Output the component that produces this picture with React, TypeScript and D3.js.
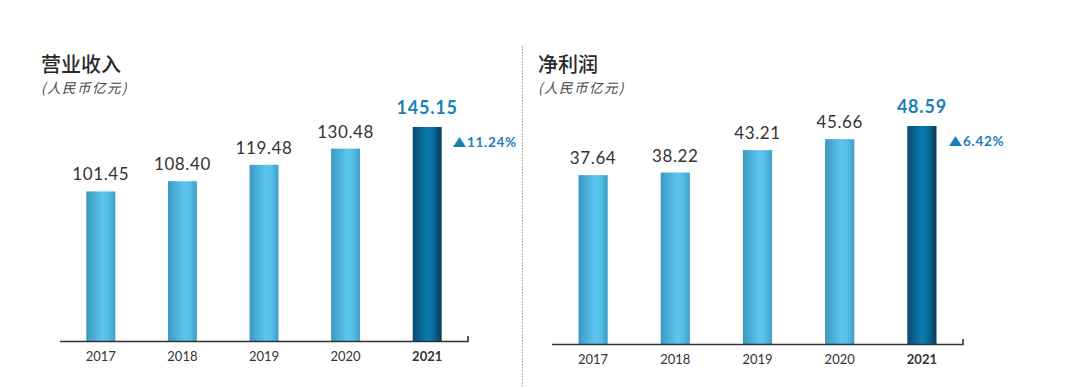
import React from "react";
import * as d3 from "d3";

const years = ["2017", "2018", "2019", "2020", "2021"];
const revenue = [101.45, 108.4, 119.48, 130.48, 145.15];
const profit = [37.64, 38.22, 43.21, 45.66, 48.59];
const revenueLabels = ["101.45", "108.40", "119.48", "130.48", "145.15"];
const profitLabels = ["37.64", "38.22", "43.21", "45.66", "48.59"];
const titles = ["营业收入", "净利润"];
const unit = "(人民币亿元)";
const growth = ["11.24%", "6.42%"];

const W = 1081;
const H = 388;
const BLUE = "#1b80b8";

type PanelProps = {
  id: string;
  values: number[];
  labels: string[];
  title: string;
  growthText: string;
  x0: number;
  x1: number;
  base: number;
  top: number;
  titleX: number;
  growthX: number;
};

function Panel(p: PanelProps) {
  const x = d3.scaleBand<string>().domain(years).range([p.x0, p.x1]).paddingInner(0.645).paddingOuter(0.3225);
  const maxV = d3.max(p.values) as number;
  const y = d3.scaleLinear().domain([0, maxV]).range([p.base, p.top]);
  const last = years.length - 1;
  const gy = y(p.values[last]) + 20;
  return (
    <g>
      <text x={p.titleX} y={72} fontFamily="'Noto Sans CJK SC', sans-serif" fontSize={20} fill="#2a2a2a" fontWeight={500}>
        {p.title}
      </text>
      <text x={p.titleX} y={93} fontFamily="'Noto Sans CJK SC', sans-serif" fontSize={13.5} fill="#444" fontStyle="italic" letterSpacing={1.5}>
        {unit}
      </text>
      {years.map((yr, i) => {
        const bx = x(yr) as number;
        const isLast = i === last;
        return (
          <g key={yr}>
            <rect
              x={bx}
              y={y(p.values[i])}
              width={x.bandwidth()}
              height={p.base - y(p.values[i])}
              fill={isLast ? `url(#${p.id}-dark)` : `url(#${p.id}-light)`}
            />
            <text
              x={bx + x.bandwidth() / 2}
              y={y(p.values[i]) - (isLast ? 13 : 11)}
              textAnchor="middle"
              fontFamily="Lato, 'Open Sans', sans-serif"
              fontSize={isLast ? 18 : 17}
              fontWeight={isLast ? 700 : 400}
              letterSpacing={isLast ? 0.8 : 0.6}
              fill={isLast ? BLUE : "#333"}
            >
              {p.labels[i]}
            </text>
            <text
              x={bx + x.bandwidth() / 2}
              y={p.base + 20}
              textAnchor="middle"
              fontFamily="Lato, 'Open Sans', sans-serif"
              fontSize={13}
              fontWeight={isLast ? 700 : 400}
              fill="#333"
            >
              {yr}
            </text>
          </g>
        );
      })}
      <path d={`M${p.x0},${p.base + 0.5}H${p.x1}V${p.base - 5}`} fill="none" stroke="#333" strokeWidth={1.6} />
      <path d={`M${p.growthX},${gy}l6.5,-10l6.5,10Z`} fill={BLUE} />
      <text
        x={p.growthX + 14}
        y={gy}
        fontFamily="Lato, 'Open Sans', sans-serif"
        fontSize={13.5}
        fontWeight={700}
        letterSpacing={0.7}
        fill={BLUE}
      >
        {p.growthText}
      </text>
    </g>
  );
}

export default function App() {
  return (
    <svg width={W} height={H} style={{ display: "block", position: "absolute", left: 0, top: 0 }}>
      <defs>
        {["a", "b"].map((id) => (
          <React.Fragment key={id}>
            <linearGradient id={`${id}-light`} x1="0" x2="1" y1="0" y2="0">
              <stop offset="0" stopColor="#3b98c0" />
              <stop offset="0.55" stopColor="#5bc6ee" />
              <stop offset="0.75" stopColor="#55bfe8" />
              <stop offset="1" stopColor="#3f9fc6" />
            </linearGradient>
            <linearGradient id={`${id}-dark`} x1="0" x2="1" y1="0" y2="0">
              <stop offset="0" stopColor="#0b4a6e" />
              <stop offset="0.5" stopColor="#0a7cb0" />
              <stop offset="0.7" stopColor="#0a6d9c" />
              <stop offset="1" stopColor="#073b5a" />
            </linearGradient>
          </React.Fragment>
        ))}
      </defs>
      <rect width={W} height={H} fill="#fff" />
      <line x1={522.5} x2={522.5} y1={46} y2={388} stroke="#999" strokeWidth={1} strokeDasharray="1.5 1.5" />
      <Panel
        id="a"
        values={revenue}
        labels={revenueLabels}
        title={titles[0]}
        growthText={growth[0]}
        x0={60}
        x1={468}
        base={341}
        top={127}
        titleX={41}
        growthX={453}
      />
      <Panel
        id="b"
        values={profit}
        labels={profitLabels}
        title={titles[1]}
        growthText={growth[1]}
        x0={552}
        x1={963}
        base={344}
        top={126}
        titleX={538}
        growthX={949}
      />
    </svg>
  );
}
